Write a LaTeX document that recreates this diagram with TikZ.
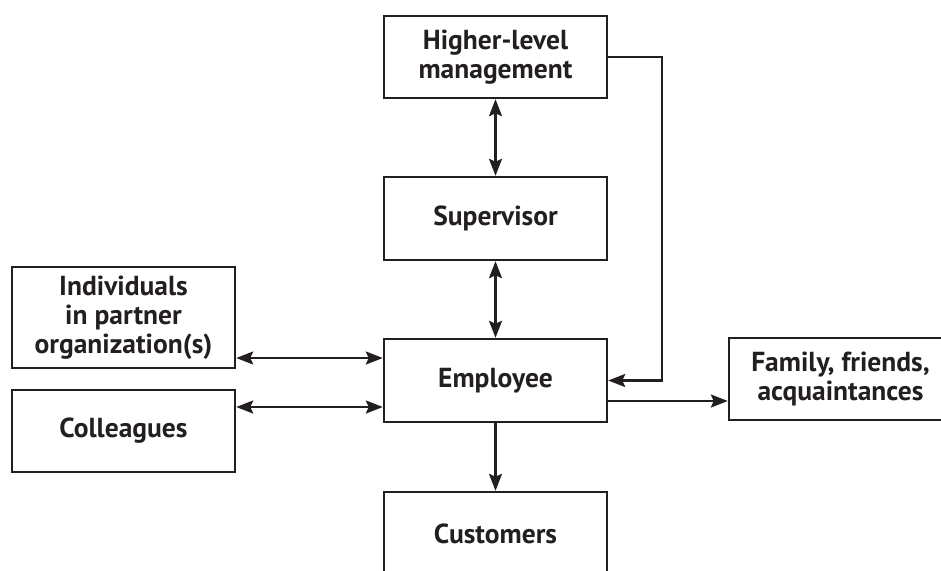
\documentclass[tikz,border=0pt]{standalone}
\usepackage{fontspec}
\setmainfont{PT Sans}
\usepackage{xcolor}
\usetikzlibrary{arrows.meta, calc}
\definecolor{ink}{HTML}{231F20}

\begin{document}
\begin{tikzpicture}[x=1pt, y=-1pt, >={Stealth[length=17pt, width=13pt, inset=3pt]},
  link/.style={draw=ink, line width=2.4pt},
  box/.style={draw=ink, line width=2.4pt, align=center, inner sep=0pt, minimum width=223pt, minimum height=82pt, text=ink, font=\fontsize{27.5}{29}\selectfont\bfseries}]
  \useasboundingbox (0,0) rectangle (941,570);
  \clip (0,0) rectangle (941,570);
  \node[box] (hlm) at (495.5,57) {Higher-level\\management};
  \node[box, minimum height=83pt] (sup) at (495.5,218.5) {Supervisor};
  \node[box, minimum height=83pt] (emp) at (495.5,380.5) {Employee};
  \node[box, minimum height=83pt] (cust) at (495.5,533.5) {Customers};
  \node[box, minimum height=101pt] (indiv) at (123.5,317.5) {Individuals\\in partner\\organization(s)};
  \node[box] (coll) at (123.5,431) {Colleagues};
  \node[box] (fam) at (840.5,379) {Family, friends,\\acquaintances};
  \draw[link, <->] (hlm) -- (sup);
  \draw[link, <->] (sup) -- (emp);
  \draw[link, <->] ($(indiv.east)+(0,40.5)$) -- ($(emp.west)+(0,-22.5)$);
  \draw[link, <->] ($(coll.east)+(0,-24)$) -- ($(emp.west)+(0,26.5)$);
  \draw[link, ->] (hlm.east) -- ++(54,0) |- (emp.east);
  \draw[link, ->] ($(emp.east)+(0,20.5)$) -- ($(fam.west)+(0,22)$);
  \draw[link, ->] (emp) -- (cust);
\end{tikzpicture}
\end{document}
